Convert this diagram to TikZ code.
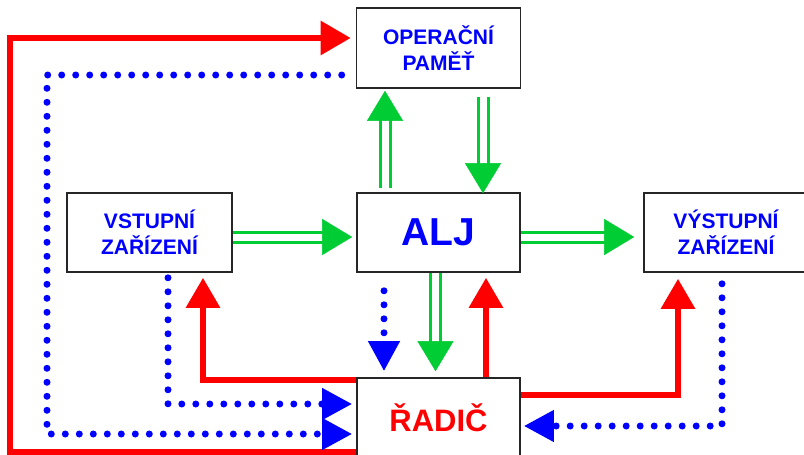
\documentclass[tikz,border=0pt]{standalone}
\usepackage{fontspec}
\setmainfont{Liberation Sans}
\usetikzlibrary{arrows.meta}
\definecolor{cRed}{RGB}{255,0,0}
\definecolor{cGreen}{RGB}{0,204,51}
\definecolor{cBlue}{RGB}{0,0,255}
\tikzset{
  box/.style={draw=black!85, line width=1.6pt, fill=white, minimum width=164pt, minimum height=79pt, inner sep=0pt, align=center, font=\bfseries\fontsize{21}{26}\selectfont, text=cBlue},
  redline/.style={draw=cRed, line width=6pt, -{Triangle[length=30pt,width=33pt]}},
  blueline/.style={draw=cBlue, line width=7pt, line cap=round, dash pattern=on 0pt off 14pt, -{Triangle[length=30pt,width=30pt]}},
  greenshaft/.style={draw=cGreen, line width=3pt, double=white, double distance=7pt, shorten >=28pt},
  greenhead/.style={draw=cGreen, line width=0.4pt, -{Triangle[length=30pt,width=36pt]}},
}
\begin{document}
\begin{tikzpicture}[x=1pt,y=-1pt]
\useasboundingbox (0,0) rectangle (804,455);
\clip (0,0) rectangle (804,455);
% nodes
\node[box, minimum height=80pt] (op) at (438.5,48) {OPERAČNÍ\\PAMĚŤ};
\node[box, minimum width=165pt] (vst) at (149.5,232.5) {VSTUPNÍ\\ZAŘÍZENÍ};
\node[box, minimum width=163pt, font=\bfseries\fontsize{39}{44}\selectfont] (alj) at (438.5,232.5) {ALJ};
\node[box] (vys) at (726,232.5) {VÝSTUPNÍ\\ZAŘÍZENÍ};
\node[box, minimum width=163pt, minimum height=80pt, text=cRed, font=\bfseries\fontsize{31}{36}\selectfont] (rad) at (438.5,418) {ŘADIČ};
% tip coordinates
\coordinate (tUp) at ([xshift=-53.5pt,yshift=-2pt]op.south);
\coordinate (tDown) at ([xshift=44.5pt,yshift=-1pt]alj.north);
\coordinate (tVA) at ([xshift=-4pt,yshift=-4.5pt]alj.west);
\coordinate (tAV) at ([xshift=-9pt,yshift=-4.5pt]vys.west);
\coordinate (tAR) at ([xshift=-3pt,yshift=6pt]rad.north);
% red connectors
\draw[redline] ([yshift=-34pt]rad.west) -| (10,38) -- ([xshift=-5pt,yshift=10pt]op.west);
\draw[redline] ([yshift=38pt]rad.west) -| ([xshift=53.5pt,yshift=-5pt]vst.south);
\draw[redline] ([xshift=47.5pt]rad.north) -- ([xshift=47.5pt,yshift=-5pt]alj.south);
\draw[redline] ([yshift=23pt]rad.east) -| ([xshift=-48pt,yshift=-6pt]vys.south);
% blue connectors
\draw[blueline] ([xshift=-14pt,yshift=-27pt]op.west) -| (47,434) -- ([xshift=-4pt,yshift=-16pt]rad.west);
\draw[blueline] ([xshift=18.5pt,yshift=-5pt]vst.south) |- ([xshift=-4pt,yshift=14pt]rad.west);
\draw[blueline] ([xshift=-54.5pt,yshift=-18pt]alj.south) -- ([xshift=-54.5pt,yshift=6pt]rad.north);
\draw[blueline] ([xshift=-4pt,yshift=-11pt]vys.south) |- ([xshift=3pt,yshift=-8pt]rad.east);
% green connectors
\draw[greenshaft] ([xshift=-53.5pt,yshift=4pt]alj.north) -- (tUp);
\draw[greenhead] ([yshift=-1pt]tUp) -- (tUp);
\draw[greenshaft] ([xshift=44.5pt,yshift=-8pt]op.south) -- (tDown);
\draw[greenhead] ([yshift=1pt]tDown) -- (tDown);
\draw[greenshaft] ([yshift=-4.5pt]vst.east) -- (tVA);
\draw[greenhead] ([xshift=-1pt]tVA) -- (tVA);
\draw[greenshaft] ([yshift=-4.5pt]alj.east) -- (tAV);
\draw[greenhead] ([xshift=-1pt]tAV) -- (tAV);
\draw[greenshaft] ([xshift=-3pt]alj.south) -- (tAR);
\draw[greenhead] ([yshift=1pt]tAR) -- (tAR);
\end{tikzpicture}
\end{document}
